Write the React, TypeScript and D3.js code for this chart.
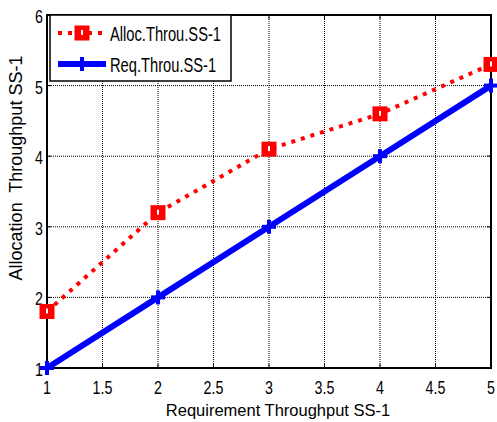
import React from "react";
import * as d3 from "d3";

const xValues = [1, 2, 3, 4, 5];
const allocThrou = [1.8, 3.2, 4.1, 4.6, 5.3];
const reqThrou = [1, 2, 3, 4, 5];
const xTicks = [1, 1.5, 2, 2.5, 3, 3.5, 4, 4.5, 5];
const yTicks = [1, 2, 3, 4, 5, 6];
const seriesNames = ["Alloc.Throu.SS-1", "Req.Throu.SS-1"];
const xLabel = "Requirement Throughput SS-1";
const yLabel = "Allocation  Throughput SS-1";

export default function App() {
  const W = 497, H = 422;
  const L = 47, R = 491, T = 15, B = 368;
  const x = d3.scaleLinear().domain([1, 5]).range([L, R]);
  const y = d3.scaleLinear().domain([1, 6]).range([B, T]);
  const line = d3.line<[number, number]>().x(d => x(d[0])).y(d => y(d[1]));
  const redPts: [number, number][] = xValues.map((v, i) => [v, allocThrou[i]]);
  const bluePts: [number, number][] = xValues.map((v, i) => [v, reqThrou[i]]);
  const font = "'Liberation Sans', Arial, sans-serif";
  const tickCond = 0.75;

  const Square = ({ cx, cy }: { cx: number; cy: number }) => (
    <g>
      <rect x={cx - 7.5} y={cy - 7.5} width={15} height={15} fill="#ff0000" />
      <rect x={cx - 1} y={cy - 3} width={2} height={5} fill="white" />
    </g>
  );
  const Plus = ({ cx, cy }: { cx: number; cy: number }) => (
    <g stroke="#0000ff" strokeWidth={4}>
      <line x1={cx - 7} x2={cx + 7} y1={cy} y2={cy} />
      <line x1={cx} x2={cx} y1={cy - 7} y2={cy + 7} />
    </g>
  );

  return (
    <svg width={W} height={H} style={{ position: "absolute", left: 0, top: 0, background: "white" }}>
      <rect x={0} y={0} width={W} height={H} fill="white" />
      {/* grid */}
      {xTicks.map(t => (
        <line key={"gx" + t} x1={x(t)} x2={x(t)} y1={T} y2={B} stroke="#000" strokeWidth={1} strokeDasharray="1,1" />
      ))}
      {yTicks.map(t => (
        <line key={"gy" + t} x1={L} x2={R} y1={y(t)} y2={y(t)} stroke="#000" strokeWidth={1} strokeDasharray="1,1" />
      ))}
      {/* ticks */}
      {xTicks.map(t => (
        <g key={"tx" + t}>
          <line x1={x(t)} x2={x(t)} y1={B} y2={B - 4} stroke="#000" />
          <line x1={x(t)} x2={x(t)} y1={T} y2={T + 4} stroke="#000" />
        </g>
      ))}
      {yTicks.map(t => (
        <g key={"ty" + t}>
          <line x1={L} x2={L + 4} y1={y(t)} y2={y(t)} stroke="#000" />
          <line x1={R} x2={R - 4} y1={y(t)} y2={y(t)} stroke="#000" />
        </g>
      ))}
      {/* axes box */}
      <rect x={L} y={T} width={R - L} height={B - T} fill="none" stroke="#000" strokeWidth={2} />
      {/* tick labels */}
      {xTicks.map(t => (
        <text key={"lx" + t} transform={`translate(${x(t)},${B + 26}) scale(${tickCond},1)`} textAnchor="middle" fontFamily={font} fontSize={19} fill="#000">
          {String(t)}
        </text>
      ))}
      {yTicks.map(t => (
        <text key={"ly" + t} transform={`translate(${L - 4},${y(t) + 8}) scale(${tickCond},1)`} textAnchor="end" fontFamily={font} fontSize={19} fill="#000">
          {String(t)}
        </text>
      ))}
      {/* series */}
      <path d={line(redPts) || ""} fill="none" stroke="#ff0000" strokeWidth={4} strokeDasharray="4,6" />
      <path d={line(bluePts) || ""} fill="none" stroke="#0000ff" strokeWidth={6} />
      {bluePts.map((p, i) => <Plus key={"b" + i} cx={x(p[0])} cy={y(p[1])} />)}
      {redPts.map((p, i) => <Square key={"r" + i} cx={x(p[0])} cy={y(p[1])} />)}
      {/* legend */}
      <rect x={50} y={15} width={181} height={66} fill="white" stroke="#000" strokeWidth={1.5} />
      <line x1={58} x2={106} y1={33} y2={33} stroke="#ff0000" strokeWidth={4} strokeDasharray="4,6" />
      <Square cx={82} cy={33} />
      <text transform={`translate(110,41) scale(0.7,1)`} fontFamily={font} fontSize={21} fill="#000">{seriesNames[0]}</text>
      <line x1={58} x2={106} y1={64} y2={64} stroke="#0000ff" strokeWidth={6} />
      <Plus cx={82} cy={64} />
      <text transform={`translate(110,72) scale(0.7,1)`} fontFamily={font} fontSize={21} fill="#000">{seriesNames[1]}</text>
      {/* axis labels */}
      <text transform={`translate(${(L + R) / 2 + 9},${416})`} textAnchor="middle" fontFamily={font} fontSize={16.5} fill="#000">{xLabel}</text>
      <text transform={`translate(22,168) rotate(-90)`} textAnchor="middle" fontFamily={font} fontSize={18} fill="#000" style={{ whiteSpace: "pre" }}>{yLabel}</text>
    </svg>
  );
}
